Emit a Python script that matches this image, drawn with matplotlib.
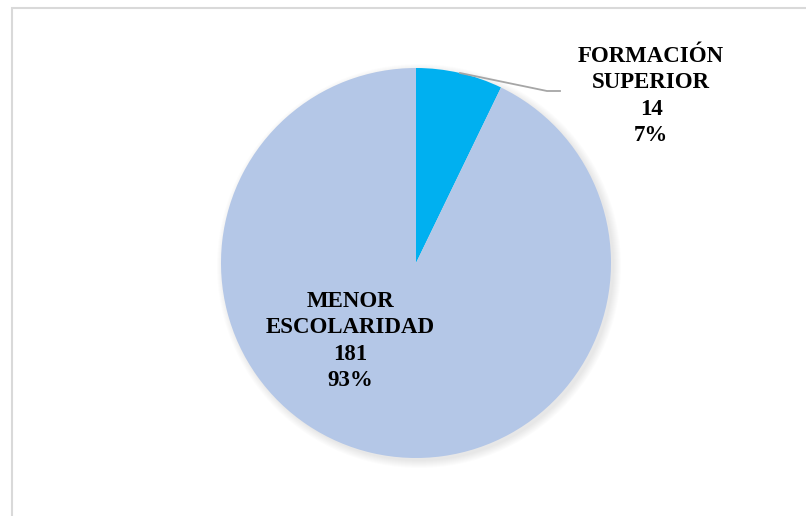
import matplotlib.pyplot as plt
from matplotlib.patches import Rectangle, Circle

# Nivel educativo de los encuestados
categorias = ["FORMACIÓN\nSUPERIOR", "MENOR\nESCOLARIDAD"]
cantidades = [14, 181]
colores = ["#00B0F0", "#B4C7E7"]

W, H = 806, 516
fig = plt.figure(figsize=(W / 100, H / 100), dpi=100)
ax = fig.add_axes([0, 0, 1, 1])

cx, cy, r = 416, H - 263, 195

# sombra suave detrás del pastel
for i in range(8):
    ax.add_patch(Circle((cx + 3, cy - 3), r + i, color="black",
                        alpha=0.012, lw=0, zorder=0))

ax.pie(cantidades, colors=colores, startangle=90, counterclock=False,
       center=(cx, cy), radius=r, frame=True,
       wedgeprops=dict(linewidth=0, zorder=1))
ax.set_xlim(0, W)
ax.set_ylim(0, H)
ax.set_aspect("auto")
ax.axis("off")

total = sum(cantidades)
etiquetas = [f"{c}\n{v}\n{round(v / total * 100)}%" for c, v in zip(categorias, cantidades)]

fuente = dict(family="Liberation Serif", fontweight="bold", fontsize=16.5,
              ha="center", va="center", linespacing=1.32, color="black")
ax.text(651, H - 96, etiquetas[0], **fuente, zorder=3)
ax.text(350, H - 341, etiquetas[1], **fuente, zorder=3)

# línea guía de la etiqueta pequeña
ax.plot([460, 547, 560], [H - 73, H - 91, H - 91], color="#A6A6A6", lw=1.3,
        zorder=2, solid_joinstyle="miter")

# marco del gráfico
fig.patches.append(Rectangle((11.5 / W, -0.1), 1.2, (H - 7.5) / H + 0.1,
                             transform=fig.transFigure, fill=False,
                             edgecolor="#D9D9D9", lw=1.5))

fig.savefig("out.png", dpi=100)
